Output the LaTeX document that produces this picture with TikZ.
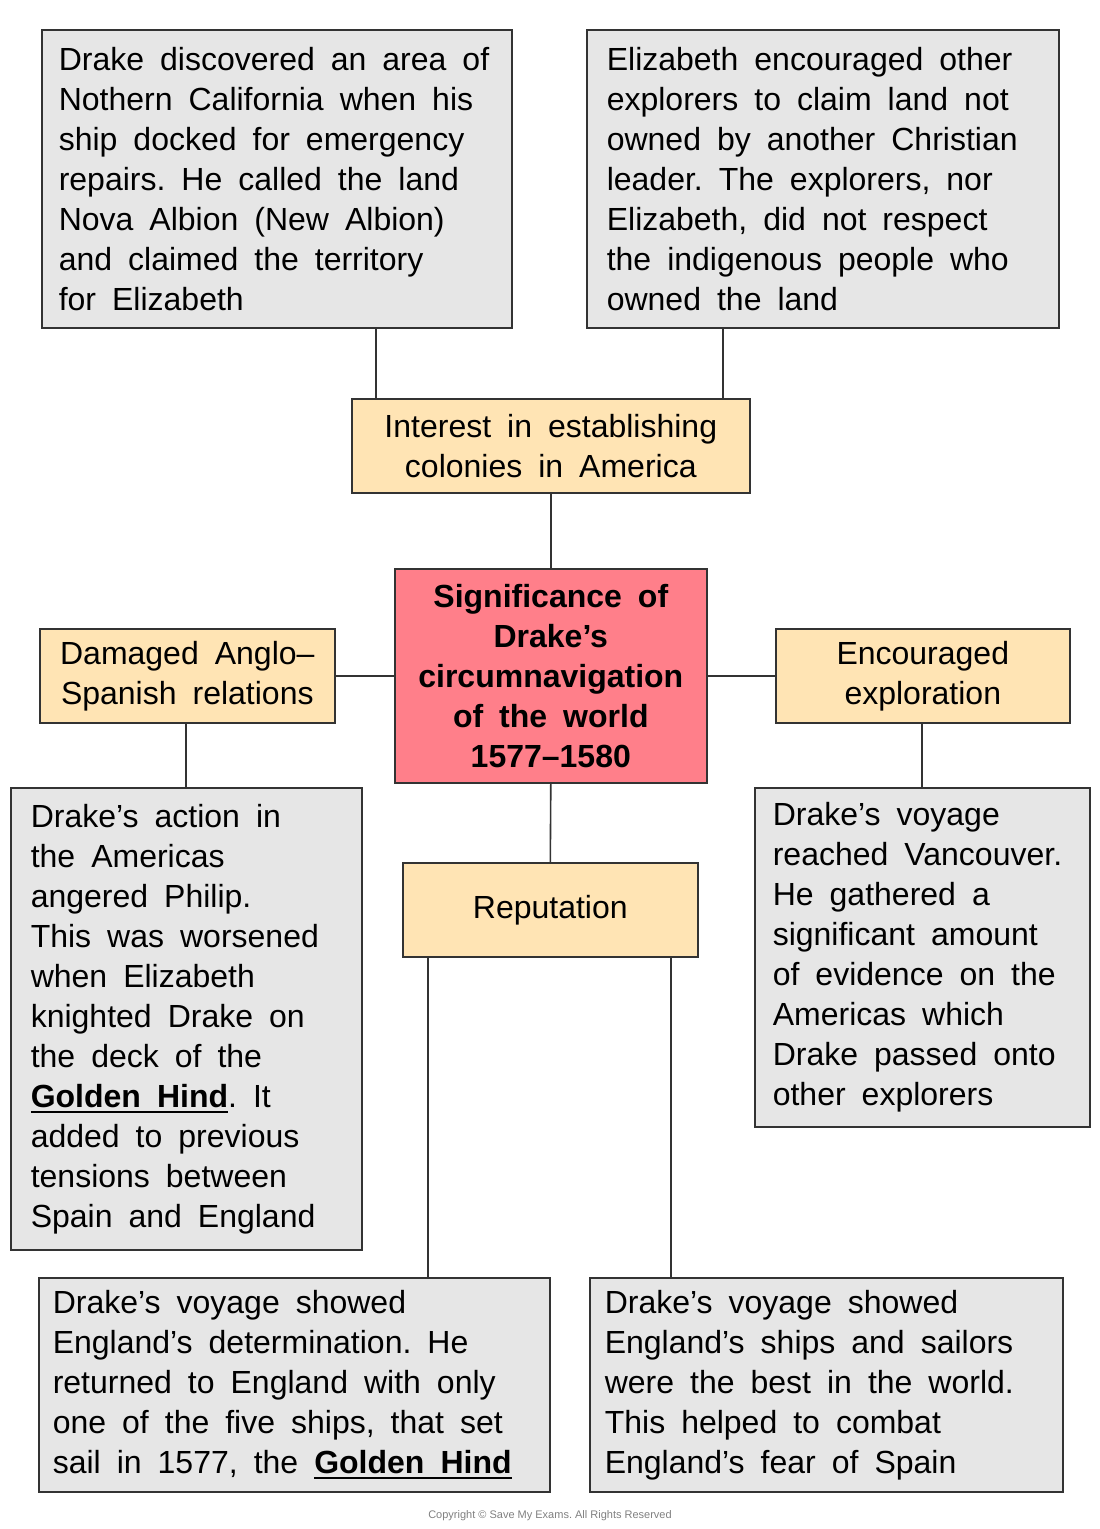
\documentclass[tikz,border=0pt]{standalone}
\usepackage{fontspec}
\setmainfont{Liberation Sans}
\newfontfamily\smallfnt{Liberation Sans}
\definecolor{greyc}{RGB}{230,230,230}
\definecolor{yelc}{RGB}{255,228,180}
\definecolor{redc}{RGB}{255,127,138}
\definecolor{linec}{RGB}{51,51,51}
\newcommand{\ulb}[1]{\leavevmode\vtop{\hbox{\bfseries #1}\kern3.5pt\hrule height 2pt}}
\frenchspacing
\tikzset{
  boxbase/.style={draw=linec, line width=1.6pt, inner ysep=0pt, anchor=north west,
    font=\fontsize{32}{40}\selectfont,
    execute at begin node={\spaceskip=16pt plus 2pt minus 1pt\relax\xspaceskip=\spaceskip}},
  greybox/.style={boxbase, fill=greyc, align=left},
  yelbox/.style={boxbase, fill=yelc, align=center},
  redbox/.style={boxbase, fill=redc, align=center, font=\fontsize{32}{40}\selectfont\bfseries},
  conn/.style={draw=linec, line width=1.6pt},
}
\begin{document}
\begin{tikzpicture}[x=1pt,y=-1pt]
\useasboundingbox (0,0) rectangle (1100,1529);
% top grey boxes
\node[greybox, inner xsep=17pt, text width=436pt, minimum height=298pt] (tl) at (41,29)
 {Drake discovered an area of\\Nothern California when his\\ship docked for emergency\\repairs. He called the land\\Nova Albion (New Albion)\\and claimed the territory\\for Elizabeth};
\node[greybox, inner xsep=20pt, text width=432pt, minimum height=298pt] (tr) at (586,29)
 {Elizabeth encouraged other\\explorers to claim land not\\owned by another Christian\\leader. The explorers, nor\\Elizabeth, did not respect\\the indigenous people who\\owned the land};
% interest
\node[yelbox, minimum width=398pt, minimum height=94pt] (int) at (351,398)
 {Interest in establishing\\colonies in America};
% center
\node[redbox, minimum width=312pt, minimum height=214pt] (ctr) at (394,568)
 {Significance of\\Drake’s\\circumnavigation\\of the world\\1577–1580};
% side yellow
\node[yelbox, minimum width=295pt, minimum height=94pt] (dam) at (39,628)
 {Damaged Anglo–\\Spanish relations};
\node[yelbox, minimum width=294pt, minimum height=94pt] (enc) at (775,628)
 {Encouraged\\exploration};
% reputation
\node[yelbox, minimum width=295pt, minimum height=94pt] (rep) at (402,862)
 {Reputation};
% left grey
\node[greybox, inner xsep=20pt, text width=311pt, minimum height=462pt] (lg) at (10,787)
 {Drake’s action in\\the Americas\\angered Philip.\\This was worsened\\when Elizabeth\\knighted Drake on\\the deck of the\\\ulb{Golden Hind}. It\\added to previous\\tensions between\\Spain and England};
% right grey
\node[greybox, inner xsep=18pt, text width=299pt, minimum height=339pt] (rg) at (754,787)
 {Drake’s voyage\\reached Vancouver.\\He gathered a\\significant amount\\of evidence on the\\Americas which\\Drake passed onto\\other explorers};
% bottom
\node[greybox, inner xsep=14pt, text width=483pt, minimum height=214pt] (bl) at (38,1277)
 {Drake’s voyage showed\\England’s determination. He\\returned to England with only\\one of the five ships, that set\\sail in 1577, the \ulb{Golden Hind}};
\node[greybox, inner xsep=15pt, text width=443pt, minimum height=214pt] (br) at (589,1277)
 {Drake’s voyage showed\\England’s ships and sailors\\were the best in the world.\\This helped to combat\\England’s fear of Spain};
% connector x positions
\coordinate (xa) at (376,0);
\coordinate (xb) at (723,0);
\coordinate (xc) at (186,0);
\coordinate (xd) at (922,0);
\coordinate (xe) at (428,0);
\coordinate (xf) at (671,0);
\draw[conn] (tl.south -| xa) -- (int.north -| xa);
\draw[conn] (tr.south -| xb) -- (int.north -| xb);
\draw[conn] (int.south) -- (ctr.north);
\draw[conn] (ctr.west) -- (dam.east);
\draw[conn] (ctr.east) -- (enc.west);
\draw[conn] (dam.south -| xc) -- (lg.north -| xc);
\draw[conn] (enc.south -| xd) -- (rg.north -| xd);
\draw[conn] (ctr.south) -- (rep.north);
\draw[conn] (rep.south -| xe) -- (bl.north -| xe);
\draw[conn] (rep.south -| xf) -- (br.north -| xf);
\node[font=\smallfnt\fontsize{11}{13}\selectfont, text=gray] (copy) at (550,1516)
 {Copyright © Save My Exams. All Rights Reserved};
\end{tikzpicture}
\end{document}
